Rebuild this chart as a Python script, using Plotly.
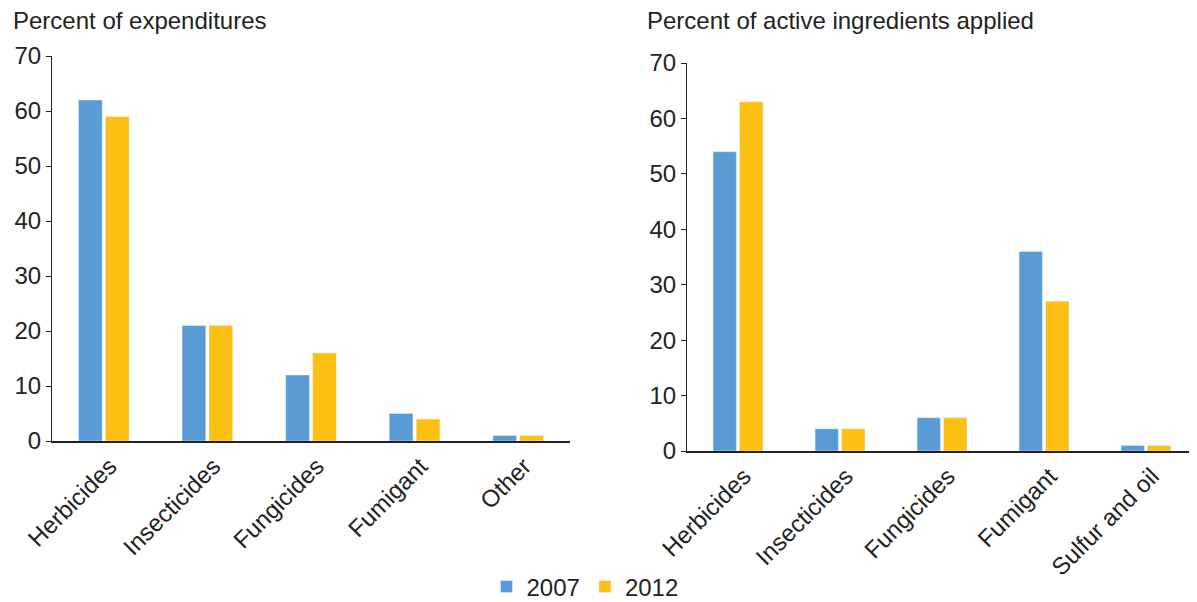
import plotly.graph_objects as go

left_categories = ["Herbicides", "Insecticides", "Fungicides", "Fumigant", "Other"]
left_2007 = [62, 21, 12, 5, 1]
left_2012 = [59, 21, 16, 4, 1]

right_categories = ["Herbicides", "Insecticides", "Fungicides", "Fumigant", "Sulfur and oil"]
right_2007 = [54, 4, 6, 36, 1]
right_2012 = [63, 4, 6, 27, 1]

y_ticks = [0, 10, 20, 30, 40, 50, 60, 70]

blue = "#5B9BD5"
yellow = "#FCC012"
font_family = "Liberation Sans, Arial, sans-serif"
fs = 24

# page has an 8px body margin, so the figure is a little smaller than the window
W, H = 1189, 594

fig = go.Figure()

# left panel: expenditures
fig.add_trace(go.Bar(x=left_categories, y=left_2007, name="2007",
                     marker=dict(color=blue), xaxis="x", yaxis="y"))
fig.add_trace(go.Bar(x=left_categories, y=left_2012, name="2012",
                     marker=dict(color=yellow), xaxis="x", yaxis="y"))

# right panel: active ingredients
fig.add_trace(go.Bar(x=right_categories, y=right_2007, name="2007", showlegend=False,
                     marker=dict(color=blue), xaxis="x2", yaxis="y2"))
fig.add_trace(go.Bar(x=right_categories, y=right_2012, name="2012", showlegend=False,
                     marker=dict(color=yellow), xaxis="x2", yaxis="y2"))

axis_common_x = dict(
    showline=True, linecolor="#222", linewidth=1.5, ticks="", showgrid=False,
    tickangle=-45, tickfont=dict(size=fs, color="#222"), zeroline=False,
    automargin=False, ticklabelshift=6,
)
axis_common_y = dict(
    range=[0, 70], tickvals=y_ticks, showline=True, linecolor="#222", linewidth=1,
    ticks="outside", ticklen=5, tickcolor="#222", showgrid=False, zeroline=False,
    tickfont=dict(size=fs, color="#222"), automargin=False,
)

fig.update_layout(
    width=W, height=H,
    margin=dict(l=0, r=0, t=0, b=0, autoexpand=False),
    plot_bgcolor="white", paper_bgcolor="white",
    font=dict(family=font_family, color="#222"),
    barmode="group", bargap=0.48, bargroupgap=0.12,
    xaxis=dict(domain=[44 / W, 562 / W], anchor="y", **axis_common_x),
    yaxis=dict(domain=[161 / H, 546 / H], anchor="x", **axis_common_y),
    xaxis2=dict(domain=[679 / W, 1.0], anchor="y2", **axis_common_x),
    yaxis2=dict(domain=[151 / H, 539 / H], anchor="x2", **axis_common_y),
    legend=dict(orientation="h", x=577 / W, xanchor="center", y=15 / H, yanchor="middle",
                font=dict(size=fs, color="#222"), itemwidth=30, traceorder="normal"),
    annotations=[
        dict(text="Percent of expenditures", xref="paper", yref="paper",
             x=3 / W, y=(H - 12) / H, xanchor="left", yanchor="middle",
             showarrow=False, font=dict(size=fs, color="#222")),
        dict(text="Percent of active ingredients applied", xref="paper", yref="paper",
             x=637 / W, y=(H - 12) / H, xanchor="left", yanchor="middle",
             showarrow=False, font=dict(size=fs, color="#222")),
    ],
)

fig.write_html("out.html")
